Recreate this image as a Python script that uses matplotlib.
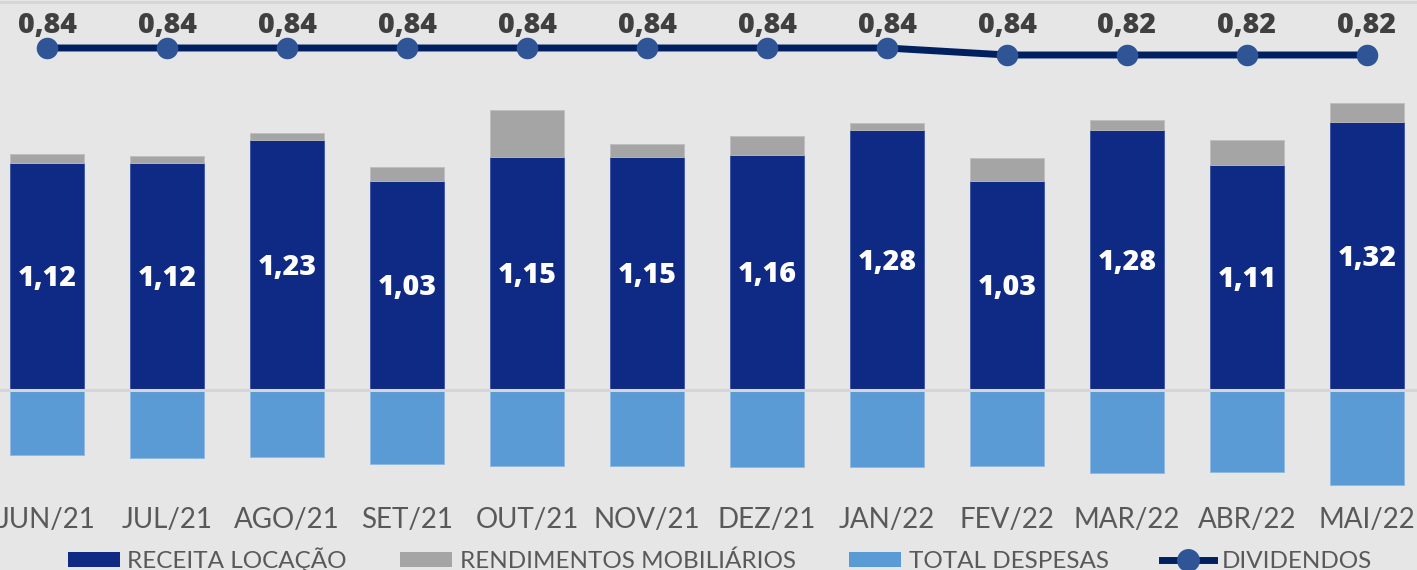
import matplotlib
matplotlib.use('Agg')
import matplotlib.pyplot as plt
from matplotlib.lines import Line2D
from matplotlib.patches import Patch

# -- DATA --
months = ['JUN/21', 'JUL/21', 'AGO/21', 'SET/21', 'OUT/21', 'NOV/21',
          'DEZ/21', 'JAN/22', 'FEV/22', 'MAR/22', 'ABR/22', 'MAI/22']
receita = [1.12, 1.12, 1.23, 1.03, 1.15, 1.15, 1.16, 1.28, 1.03, 1.28, 1.11, 1.32]
rendimentos = [0.044, 0.035, 0.035, 0.068, 0.227, 0.064, 0.092, 0.037,
               0.115, 0.048, 0.12, 0.095]
despesas = [-0.32, -0.335, -0.33, -0.365, -0.375, -0.375, -0.38, -0.38,
            -0.375, -0.41, -0.405, -0.47]
dividendos = [0.84, 0.84, 0.84, 0.84, 0.84, 0.84, 0.84, 0.84,
              0.82, 0.82, 0.82, 0.82]
div_labels = ['0,84', '0,84', '0,84', '0,84', '0,84', '0,84', '0,84', '0,84',
              '0,84', '0,82', '0,82', '0,82']
receita_labels = ['1,12', '1,12', '1,23', '1,03', '1,15', '1,15', '1,16',
                  '1,28', '1,03', '1,28', '1,11', '1,32']

# -- STYLE --
BG = '#e6e6e6'
DARK = '#0e2a84'
GRAY = '#a5a5a5'
LIGHT = '#5b9bd5'
LINE = '#002060'
MARK = '#2f5597'
TXT = '#595959'
LBL_FONT = dict(family='Open Sans', fontweight=800, fontsize=20.5)

fig = plt.figure(figsize=(14.17, 5.70), dpi=100, facecolor=BG)
# axes spans px 0..495 vertically
ax = fig.add_axes([0, 1 - 495 / 570, 1, 495 / 570])
ax.set_facecolor(BG)

x = list(range(len(months)))
w = 0.61
ax.bar(x, receita, w, color=DARK, edgecolor='#3552a0', linewidth=0.6, zorder=2)
ax.bar(x, rendimentos, w, bottom=receita, color=GRAY, edgecolor='#bdbdbd',
       linewidth=0.6, zorder=2)
ax.bar(x, despesas, w, color=LIGHT, edgecolor='#8db8e2', linewidth=0.6, zorder=2)
ax.axhline(0, color='#d6d6d6', lw=2.2, zorder=3)

# value labels centred (cap height) in the dark bars
for xi, v, lab in zip(x, receita, receita_labels):
    ax.annotate(lab, (xi, v / 2), xytext=(0, -9.5), textcoords='offset pixels',
                ha='center', va='baseline', color='white', zorder=4, **LBL_FONT)

ax.set_xlim(-0.5 + 13 / 120, 11.5 - 10 / 120)
ax.set_ylim(-(495 - 390) / 203, 390 / 203)
ax.set_xticks(x)
ax.set_xticklabels(months, fontsize=20, color=TXT, family='Lato')
ax.tick_params(axis='x', length=0, pad=9)
ax.set_yticks([])
for s in ax.spines.values():
    s.set_visible(False)

ax2 = ax.twinx()
ax2.plot(x, dividendos, color=LINE, lw=5, marker='o', markersize=14.5,
         markerfacecolor=MARK, markeredgecolor=MARK, zorder=5)
ax2.set_ylim(0.84 - (495 - 48) / 350, 0.84 + 48 / 350)
ax2.set_yticks([])
for s in ax2.spines.values():
    s.set_visible(False)
for xi, lab in zip(x, div_labels):
    ax2.text(xi, 1 - 33 / 495, lab, ha='center', va='baseline', color='#404040',
             transform=ax2.get_xaxis_transform(), **LBL_FONT)

# top border line
fig.add_artist(Line2D([0, 1], [1 - 2 / 570, 1 - 2 / 570], color='#d6d6d6',
                      lw=2, transform=fig.transFigure))

handles = [
    Patch(facecolor=DARK, label='RECEITA LOCAÇÃO'),
    Patch(facecolor=GRAY, label='RENDIMENTOS MOBILIÁRIOS'),
    Patch(facecolor=LIGHT, label='TOTAL DESPESAS'),
    Line2D([], [], color=LINE, lw=5, marker='o', markersize=15.5,
           markerfacecolor=MARK, markeredgecolor=MARK, label='DIVIDENDOS'),
]
leg = fig.legend(handles=handles, loc='center', ncol=4,
                 bbox_to_anchor=(0.508, 1 - 560 / 570), frameon=False,
                 prop={'family': 'Lato', 'size': 17.5}, labelcolor=TXT,
                 handlelength=2.15, handleheight=0.55, handletextpad=0.3,
                 columnspacing=2.2, borderaxespad=0, borderpad=0)

fig.savefig('out.png', dpi=100, facecolor=BG)
